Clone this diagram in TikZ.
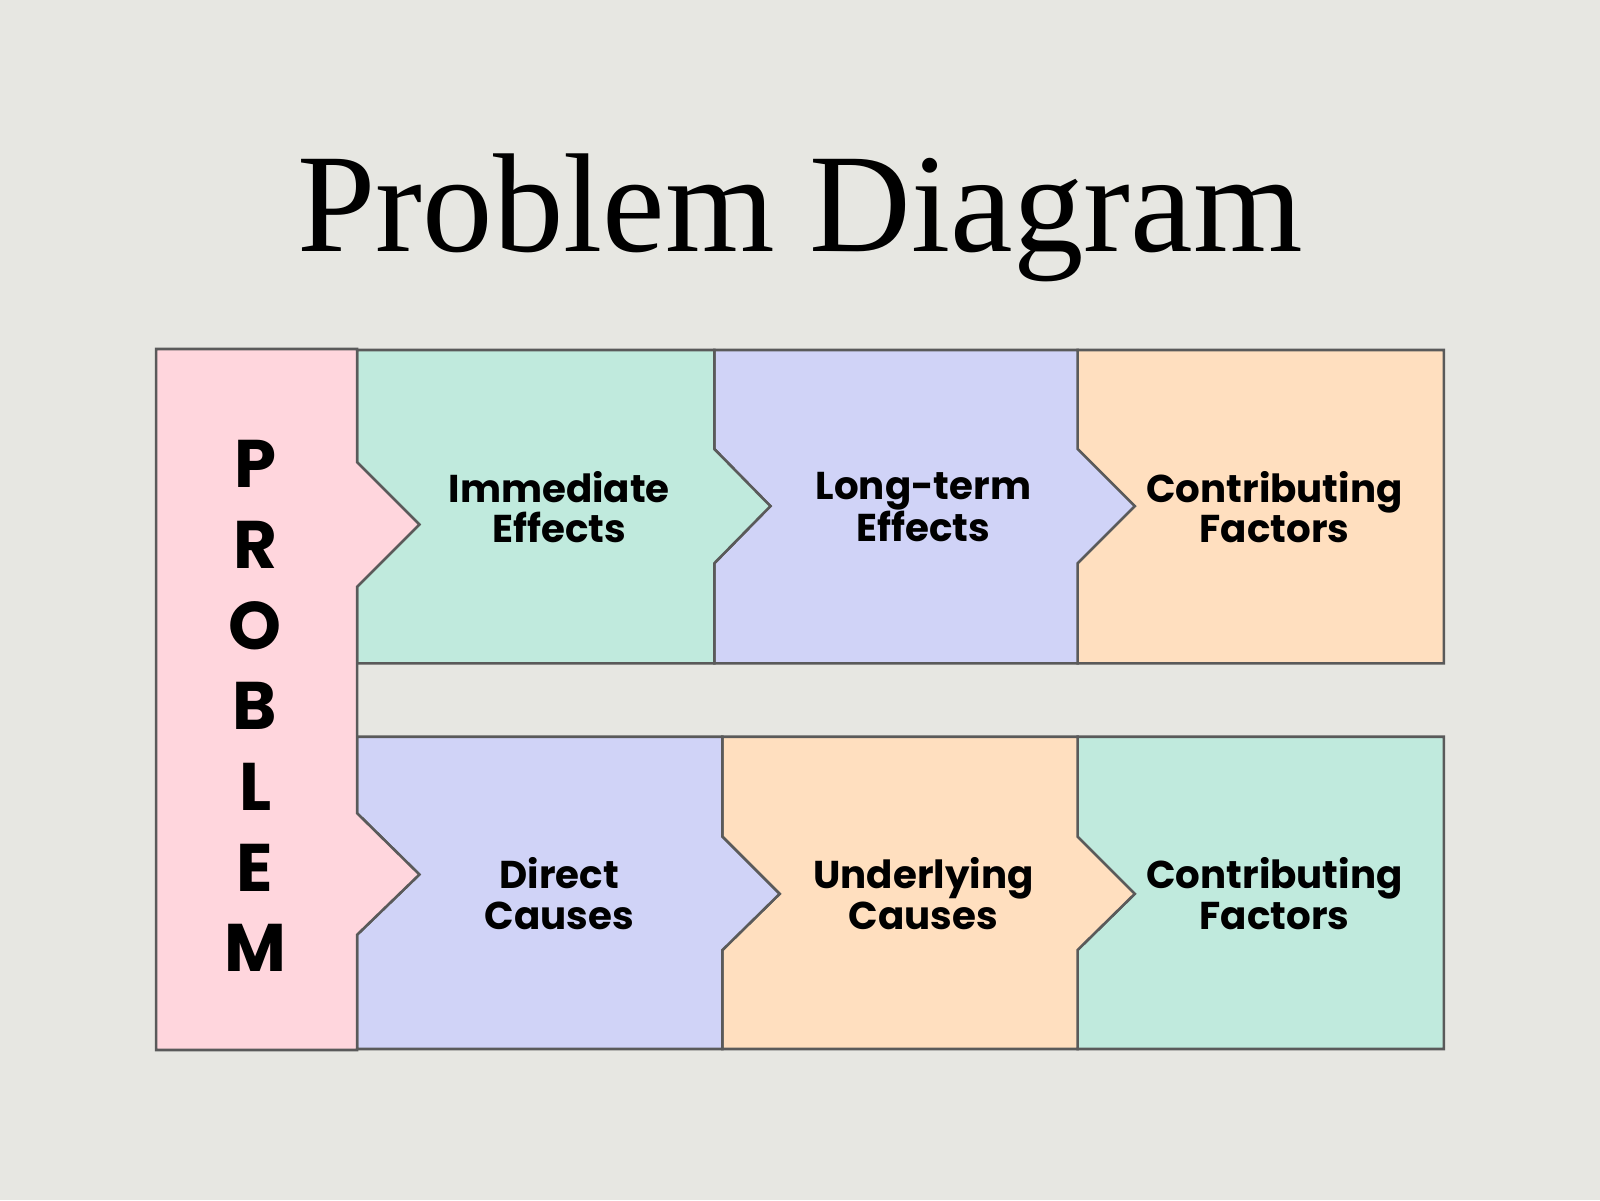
\documentclass[tikz,border=0pt]{standalone}
\usepackage{fontspec}
\setmainfont{Liberation Serif}
\newfontfamily\lab{Poppins}
\definecolor{bg}{HTML}{E7E7E2}
\definecolor{pk}{HTML}{FFD6DD}
\definecolor{gr}{HTML}{C0EADD}
\definecolor{pu}{HTML}{D0D3F7}
\definecolor{or}{HTML}{FFDFBF}
\definecolor{st}{HTML}{5A5A5A}
\begin{document}
\begin{tikzpicture}[x=1pt,y=-1pt,
  blk/.style={draw=st,line width=2.5pt,line join=miter},
  lbl/.style={font=\lab\bfseries\fontsize{38}{40}\selectfont,align=center,text=black}]
\fill[bg] (0,0) rectangle (1568,1176);
\useasboundingbox (0,0) rectangle (1568,1176);
\node[font=\fontsize{138}{150}\selectfont] (title) at (784,213) {Problem Diagram};
% top row
\draw[blk,fill=or] (1056,343)--(1415,343)--(1415,650)--(1056,650)--(1056,552)--(1112,496)--(1056,440)--cycle;
\draw[blk,fill=pu] (700,343)--(1056,343)--(1056,440)--(1112,496)--(1056,552)--(1056,650)--(700,650)--(700,552)--(755,496)--(700,440)--cycle;
\draw[blk,fill=gr] (350,343)--(700,343)--(700,440)--(755,496)--(700,552)--(700,650)--(350,650)--(350,575)--(411,514)--(350,453)--cycle;
% bottom row
\draw[blk,fill=gr] (1056,722)--(1415,722)--(1415,1028)--(1056,1028)--(1056,931)--(1112,876)--(1056,820)--cycle;
\draw[blk,fill=or] (708,722)--(1056,722)--(1056,820)--(1112,876)--(1056,931)--(1056,1028)--(708,1028)--(708,931)--(764,876)--(708,820)--cycle;
\draw[blk,fill=pu] (350,722)--(708,722)--(708,820)--(764,876)--(708,931)--(708,1028)--(350,1028)--(350,916)--(411,857)--(350,797)--cycle;
% problem
\draw[blk,fill=pk] (153,342)--(350,342)--(350,453)--(411,514)--(350,575)--(350,797)--(411,857)--(350,916)--(350,1029)--(153,1029)--cycle;
\node[font=\lab\bfseries\fontsize{66}{79}\selectfont,align=center] (prob) at (250,692) {P\\R\\O\\B\\L\\E\\M};
\node[lbl] (ie) at (548,497) {Immediate\\Effects};
\node[lbl] (lt) at (905,497) {Long-term\\Effects};
\node[lbl] (cf1) at (1249,497) {Contributing\\Factors};
\node[lbl] (dc) at (548,876) {Direct\\Causes};
\node[lbl] (uc) at (905,876) {Underlying\\Causes};
\node[lbl] (cf2) at (1249,876) {Contributing\\Factors};
\end{tikzpicture}
\end{document}
